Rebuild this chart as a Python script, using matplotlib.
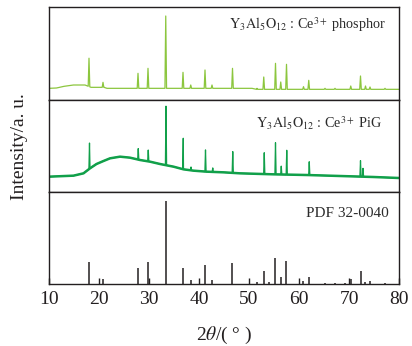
import numpy as np
import matplotlib
matplotlib.use("Agg")
import matplotlib.pyplot as plt

plt.rcParams['font.family'] = ['Liberation Serif', 'DejaVu Serif']
plt.rcParams['mathtext.fontset'] = 'stix'

# ---------------- data ----------------
# PDF 32-0040 reference lines (2theta, relative intensity)
pdf_pos = [18.07, 20.73, 27.73, 29.73, 33.33, 36.73, 38.33, 41.2, 42.6, 46.67, 51.6,
           52.93, 54.07, 55.27, 56.33, 57.47, 60.87, 61.93, 65.2, 67.2, 69.2, 70.4,
           72.33, 73.27, 74.2, 77.2]
pdf_int = [27, 6, 19, 27, 100, 19, 5, 23, 5, 25, 2, 16, 2, 31, 8, 28, 4, 9, 1, 1, 1,
           6, 16, 2, 4, 1]

# YAG:Ce phosphor pattern: background control points and peaks (height above background)
ph_bg_x = [10.0, 11.5, 13.0, 14.9, 17.2, 18.4, 21.0, 21.6, 50.6, 51.5, 80.0]
ph_bg_y = [35, 36, 41, 45, 45, 38, 38, 35, 35, 32, 32]
ph_pos = [18.0, 20.8, 27.8, 29.8, 33.35, 36.8, 38.35, 41.2, 42.6, 46.7, 51.6, 52.95,
          55.3, 56.35, 57.5, 60.9, 61.95, 65.2, 67.2, 70.35, 72.3, 73.3, 74.2, 77.2]
ph_int = [85, 15, 45, 60, 217, 48, 10, 55, 10, 60, 3, 37, 78, 22, 75, 8, 27, 3, 3,
          10, 40, 10, 7, 3]

# YAG:Ce PiG pattern: amorphous glass hump control points and peaks
pig_bg_x = [10.0, 14.9, 16.9, 18.2, 19.5, 20.9, 22.2, 24.2, 26.2, 28.2, 30.2, 32.2,
            34.9, 36.9, 38.9, 41.5, 44.9, 48.2, 54.9, 61.5, 68.2, 74.9, 80.0]
pig_bg_y = [46, 49, 56, 71, 84, 93, 101, 106, 103, 96, 91, 84, 76, 68, 64, 61, 59,
            56, 53, 51, 48, 45, 42]
pig_pos = [18.1, 27.85, 29.85, 33.4, 36.85, 38.4, 41.3, 42.75, 46.75, 53.05, 55.3,
           56.45, 57.55, 62.05, 72.3, 72.8]
pig_int = [77, 33, 34, 177, 93, 10, 65, 12, 64, 64, 95, 25, 73, 40, 48, 25]

xticks = [10, 20, 30, 40, 50, 60, 70, 80]

col_ph = '#8cc63e'
col_pig = '#11a04a'
col_pdf = '#231f20'


def trace(bg_x, bg_y, pos, hts, hw=0.16):
    xs = list(bg_x)
    ys = list(bg_y)
    for p, h in zip(pos, hts):
        b = float(np.interp(p, bg_x, bg_y))
        xs += [p - hw, p, p + hw]
        ys += [float(np.interp(p - hw, bg_x, bg_y)), b + h, float(np.interp(p + hw, bg_x, bg_y))]
    order = np.argsort(xs, kind='stable')
    return np.array(xs)[order], np.array(ys)[order]


fig = plt.figure(figsize=(4.12, 3.46), dpi=100)
gs = fig.add_gridspec(3, 1, height_ratios=[93, 92, 92], hspace=0,
                      left=49/412, right=399/412, bottom=1-284/346, top=1-7/346)
axes = [fig.add_subplot(gs[i]) for i in range(3)]

# phosphor
ax = axes[0]
x, y = trace(ph_bg_x, ph_bg_y, ph_pos, ph_int)
ax.plot(x, y, color=col_ph, lw=0.9)
ax.set_ylim(0, 279)
ax.text(0.962, 0.806, r'$\mathrm{Y_3Al_5O_{12}}$ : Ce$^{3+}$ phosphor', transform=ax.transAxes,
        ha='right', va='center', fontsize=10.2, color='#2b2b2b')

# PiG
ax = axes[1]
ax.plot(pig_bg_x, pig_bg_y, color=col_pig, lw=1.8, solid_capstyle='butt')
x, y = trace(pig_bg_x, pig_bg_y, pig_pos, pig_int, hw=0.12)
ax.plot(x, y, color=col_pig, lw=0.9)
ax.set_ylim(0, 276)
ax.text(0.953, 0.75, r'$\mathrm{Y_3Al_5O_{12}}$ : Ce$^{3+}$ PiG', transform=ax.transAxes,
        ha='right', va='center', fontsize=10.2, color='#2b2b2b')

# PDF
ax = axes[2]
ax.vlines(pdf_pos, 0, pdf_int, color=col_pdf, lw=1.1, snap=True)
ax.set_ylim(0, 111)
ax.text(0.972, 0.77, 'PDF 32-0040', transform=ax.transAxes,
        ha='right', va='center', fontsize=11, color='#2b2b2b')

for i, ax in enumerate(axes):
    ax.set_xlim(10, 80)
    ax.set_yticks([])
    for s in ax.spines.values():
        s.set_linewidth(1.0)
        s.set_color('#231f20')
    if i < 2:
        ax.set_xticks([])
    else:
        ax.set_xticks(xticks)
        ax.set_xticklabels([str(t) for t in xticks])
        ax.tick_params(axis='x', direction='in', length=4, width=1.0, labelsize=14, pad=5,
                       colors='#231f20')

fig.text(0.048, 0.575, 'Intensity/a. u.', rotation=90, ha='center', va='center',
         fontsize=14, color='#231f20')
fig.text(224/412, 1-335/346, r'2$\mathit{\theta}$/( ° )', ha='center', va='center',
         fontsize=14, color='#231f20')

fig.savefig('out.png', dpi=100)
